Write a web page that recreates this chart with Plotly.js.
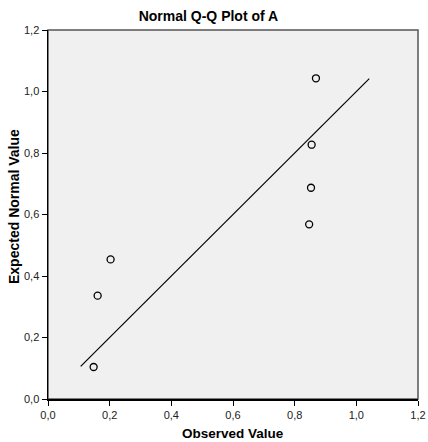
<!DOCTYPE html>
<html>
<head>
<meta charset="utf-8">
<script src="https://cdn.plot.ly/plotly-3.0.1.min.js"></script>
<style>
  html, body { margin: 0; padding: 0; background: #ffffff; }
  #chart { width: 428px; height: 442px; }
</style>
</head>
<body>
<div id="chart"></div>
<script>
// Observed values of A and their expected normal quantiles
const observed = [0.148, 0.161, 0.203, 0.847, 0.853, 0.855, 0.869];
const expected = [0.104, 0.336, 0.454, 0.568, 0.687, 0.827, 1.043];

// Reference line y = x over the range of expected values
const refLine = [0.106, 1.042];

// Axis ticks
const tickVals = [0, 0.2, 0.4, 0.6, 0.8, 1.0, 1.2];
const tickText = ['0,0', '0,2', '0,4', '0,6', '0,8', '1,0', '1,2'];

const font = 'Liberation Sans, Arial, sans-serif';

const traces = [
  {
    x: refLine,
    y: refLine,
    mode: 'lines',
    line: { color: '#000000', width: 1.2 },
    hoverinfo: 'skip',
    showlegend: false
  },
  {
    x: observed,
    y: expected,
    mode: 'markers',
    marker: {
      symbol: 'circle-open',
      size: 7,
      color: '#000000',
      line: { color: '#000000', width: 1.3 }
    },
    showlegend: false
  }
];

const axisCommon = {
  range: [0, 1.2],
  tickvals: tickVals,
  ticktext: tickText,
  ticks: 'outside',
  ticklen: 5,
  tickwidth: 1,
  tickcolor: '#000000',
  showline: true,
  linecolor: '#000000',
  linewidth: 1.5,
  showgrid: false,
  zeroline: false,
  tickfont: { family: font, size: 11, color: '#222222' },
  automargin: false,
  fixedrange: true
};

const layout = {
  width: 428,
  height: 442,
  margin: { l: 48, r: 10, t: 30, b: 43 },
  paper_bgcolor: '#ffffff',
  plot_bgcolor: '#f0f0f0',
  title: {
    text: 'Normal Q-Q Plot of A',
    font: { family: font, size: 14, color: '#000000', weight: 'bold' },
    xref: 'container',
    x: 0.487,
    xanchor: 'center',
    yref: 'container',
    y: 1 - 16 / 442,
    yanchor: 'middle'
  },
  xaxis: Object.assign({}, axisCommon),
  yaxis: Object.assign({}, axisCommon),
  annotations: [
    {
      text: '<b>Observed Value</b>',
      font: { family: font, size: 13.5, color: '#000000' },
      xref: 'paper', x: 0.5, xanchor: 'center',
      yref: 'paper', y: -34 / 369, yanchor: 'middle',
      showarrow: false
    },
    {
      text: '<b>Expected Normal Value</b>',
      font: { family: font, size: 14, color: '#000000' },
      textangle: -90,
      xref: 'paper', x: -34 / 370, xanchor: 'center',
      yref: 'paper', y: (399 - 207) / 369, yanchor: 'middle',
      showarrow: false
    }
  ],
  shapes: [
    {
      type: 'rect',
      xref: 'paper', yref: 'paper',
      x0: 0, x1: 1, y0: 0, y1: 1,
      line: { color: '#555555', width: 1.5 },
      fillcolor: 'rgba(0,0,0,0)',
      layer: 'below'
    }
  ]
};

Plotly.newPlot('chart', traces, layout, { displayModeBar: false, staticPlot: true });
</script>
</body>
</html>
